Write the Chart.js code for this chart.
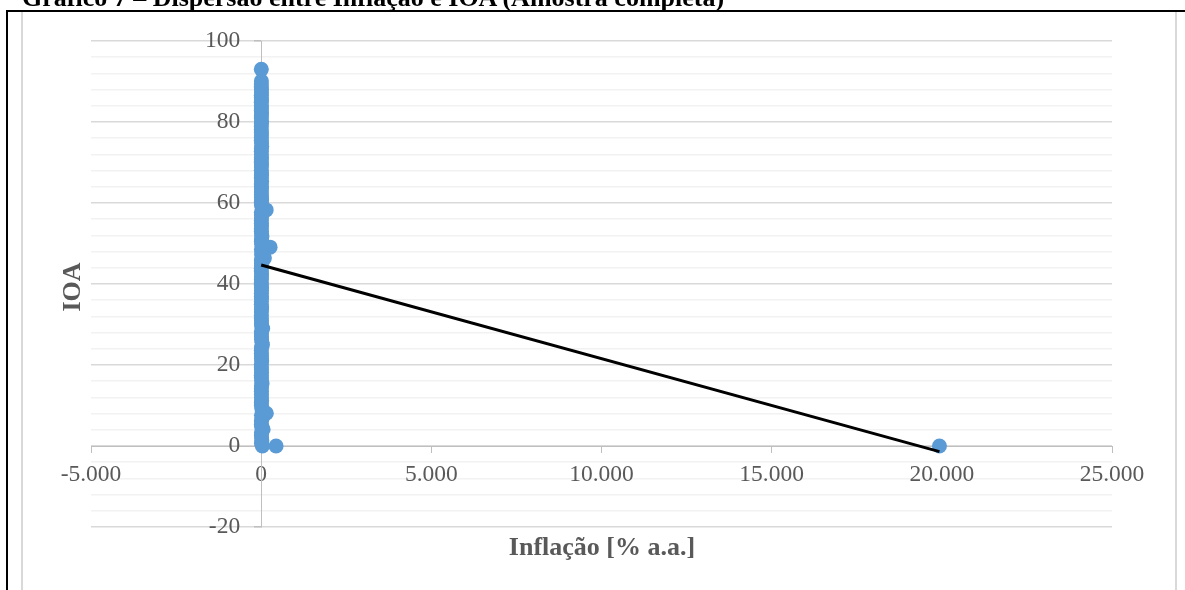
<!DOCTYPE html>
<html>
<head>
<meta charset="utf-8">
<script src="https://cdn.jsdelivr.net/npm/chart.js@4/dist/chart.umd.min.js"></script>
<style>
  html, body { margin:0; padding:0; background:#fff; }
  body { width:1185px; height:590px; overflow:hidden; position:relative; font-family:"Liberation Serif", "Times New Roman", serif; }
  #wrap { position:absolute; left:0; top:0; width:1185px; height:590px; }
  .title { position:absolute; left:22px; top:-15px; font-weight:bold; font-size:26px; line-height:26px; color:#000; white-space:nowrap; }
  .blackTop { position:absolute; left:6px; top:10px; width:1179px; height:2px; background:#000; }
  .blackLeft { position:absolute; left:6px; top:10px; width:2px; height:580px; background:#000; }
  .grayBox { position:absolute; left:21px; top:12px; width:1152px; height:600px; border-left:2px solid #d9d9d9; border-right:2px solid #d9d9d9; }
  .ytitle { position:absolute; left:72px; top:287px; width:120px; text-align:center; font-weight:bold; font-size:26px; line-height:26px; color:#595959; transform:translate(-50%,-50%) rotate(-90deg); white-space:nowrap; }
  .xtitle { position:absolute; left:602px; top:534px; transform:translateX(-50%); font-weight:bold; font-size:26px; line-height:26px; color:#595959; white-space:nowrap; }
</style>
</head>
<body>
<div id="wrap"><canvas id="c"></canvas></div>
<div class="grayBox"></div>
<div class="title">Gráfico 7 – Dispersão entre Inflação e IOA (Amostra completa)</div>
<div class="blackTop"></div>
<div class="blackLeft"></div>
<div class="ytitle">IOA</div>
<div class="xtitle">Inflação [% a.a.]</div>
<script>
const inflacao = [
  4.2, 6.8, 5.1, 3.5, 7.7, 9.1, 4.0, 5.6, 8.3, 2.9,
  6.2, 7.4, 3.9, 11.3, 5.3, 4.7, 9.8, 6.1, 4.5, 3.8,
  7.0, 8.5, 5.9, 5.2, 10.6, 14.6, 6.4, 4.4, 8.1, 7.9,
  5.4, 3.1, 9.2, 6.6, 4.8, 10.2, 7.3, 5.0, 12.9, 4.1,
  6.9, 8.8, 5.7, 6.3, 9.5, 12.7, 4.6, 5.5, 40.0, 148.0,
  6.0, 7.2, 8.9, 4.9, 6.8, 9.6, 5.2, 6.0, 11.0, 21.5,
  7.5, 5.8, 15.3, 262.0, 9.0, 18.4, 12.2, 95.0, 6.1, 7.7,
  8.6, 5.3, 4.2, 11.8, 7.1, 6.4, 5.0, 4.6, 10.9, 9.3,
  6.3, 7.0, 8.4, 5.9, 4.7, 13.4, 7.8, 6.7, 5.6, 4.3,
  9.7, 8.2, 14.0, 45.0, 6.5, 6.9, 8.7, 10.5, 22.0, 38.0,
  7.4, 5.1, 6.6, 7.6, 9.1, 16.2, 5.5, 4.8, 8.3, 9.9,
  4.9, 6.2, 11.6, 25.3, 7.2, 5.7, 6.8, 8.0, 9.4, 12.1,
  5.3, 6.5, 19.0, 152.0, 8.8, 30.4, 6.0, 7.3, 10.1, 58.0,
  9.4, 6.7, 12.5, 20.6, 8.1, 35.7, 438.0, 19930.0
];
const ioa = [
  93.0, 90.1, 89.4, 88.7, 88.0, 87.2, 86.6, 86.0, 85.3, 84.9,
  84.1, 83.5, 82.8, 82.2, 81.5, 81.0, 80.2, 79.6, 78.9, 78.1,
  77.5, 76.8, 76.1, 75.5, 74.8, 74.0, 73.4, 72.8, 72.0, 71.3,
  70.7, 70.1, 69.5, 68.9, 68.1, 67.4, 66.8, 66.2, 65.4, 64.7,
  64.1, 63.5, 62.7, 62.0, 61.4, 60.8, 60.1, 59.5, 58.9, 58.3,
  57.7, 57.1, 56.3, 55.6, 55.0, 54.4, 53.6, 53.0, 52.4, 51.7,
  51.1, 50.5, 49.8, 49.1, 48.6, 48.0, 47.2, 46.4, 45.8, 45.2,
  44.5, 43.9, 43.2, 42.5, 41.8, 41.1, 40.4, 39.8, 39.1, 38.4,
  37.7, 37.0, 36.4, 35.7, 35.0, 34.3, 33.7, 33.1, 32.3, 31.6,
  30.9, 30.2, 29.6, 29.0, 28.3, 27.7, 27.0, 26.3, 25.6, 25.0,
  24.3, 23.6, 22.9, 22.3, 21.6, 21.0, 20.2, 19.5, 18.9, 18.2,
  17.5, 16.9, 16.1, 15.4, 14.8, 14.1, 13.5, 12.8, 12.0, 11.3,
  10.7, 10.0, 9.2, 8.1, 7.6, 6.9, 6.2, 5.4, 4.8, 4.1,
  3.4, 2.7, 2.0, 1.3, 0.6, 0.0, 0.0, 0.0
];
// Linear trendline (start and end)
const trendX = [0, 19930];
const trendY = [44.7, -1.4];

// Axis ranges and tick steps
const xMin = -5000, xMax = 25000, xStep = 5000;
const yMin = -20, yMax = 100, yMinorStep = 4, yMajorStep = 20;

function fmtPt(v) {
  const s = Math.abs(v).toString().replace(/\B(?=(\d{3})+(?!\d))/g, '.');
  return (v < 0 ? '-' : '') + s;
}

const points = inflacao.map((x, i) => ({ x: x, y: ioa[i] }));
const trend = trendX.map((x, i) => ({ x: x, y: trendY[i] }));

const tickFont = { family: '"Liberation Serif", "Times New Roman", serif', size: 23.5 };

// Y labels of an axis placed at x = 0 sit flush on the axis; move them left by tick length + padding
const yLabelGap = {
  id: 'yLabelGap',
  beforeDraw(chart) {
    const sc = chart.scales.y;
    const gap = sc.options.grid.tickLength + sc.options.ticks.padding;
    const items = sc.getLabelItems();
    if (!items._shifted) {
      items.forEach(it => { it.options.translation = [it.options.translation[0] - gap, it.options.translation[1]]; });
      items._shifted = true;
    }
  }
};

new Chart(document.getElementById('c'), {
  type: 'scatter',
  data: {
    datasets: [
      { data: trend, showLine: true, pointRadius: 0, borderColor: '#000000', borderWidth: 3, fill: false },
      { data: points, pointRadius: 7.5, backgroundColor: '#5b9bd5', borderColor: '#5b9bd5', borderWidth: 0 }
    ]
  },
  options: {
    responsive: true,
    maintainAspectRatio: false,
    animation: false,
    events: [],
    layout: { padding: { left: 91, right: 73, top: 41, bottom: 63 } },
    plugins: { legend: { display: false }, tooltip: { enabled: false }, title: { display: false } },
    scales: {
      x: {
        type: 'linear', position: { y: 0 }, min: xMin, max: xMax,
        ticks: { stepSize: xStep, autoSkip: false, maxRotation: 0, padding: 9, color: '#595959', font: tickFont, callback: v => fmtPt(v) },
        grid: { drawOnChartArea: false, drawTicks: true, tickLength: 6, tickColor: '#bfbfbf', tickWidth: 1 },
        border: { display: true, color: '#bfbfbf', width: 1 }
      },
      y: {
        type: 'linear', position: { x: 0 }, min: yMin, max: yMax,
        ticks: { stepSize: yMinorStep, autoSkip: false, padding: 14, color: '#595959', font: tickFont,
                 callback: v => (v % yMajorStep === 0 ? String(v) : '') },
        grid: {
          color: c => (c.tick && c.tick.value % yMajorStep === 0 ? '#d9d9d9' : '#f2f2f2'),
          lineWidth: 1.5,
          drawTicks: true, tickLength: 7,
          tickColor: c => (c.tick && c.tick.value % yMajorStep === 0 ? '#bfbfbf' : 'rgba(0,0,0,0)')
        },
        border: { display: true, color: '#bfbfbf', width: 1 }
      }
    }
  },
  plugins: [yLabelGap]
});
</script>
</body>
</html>
